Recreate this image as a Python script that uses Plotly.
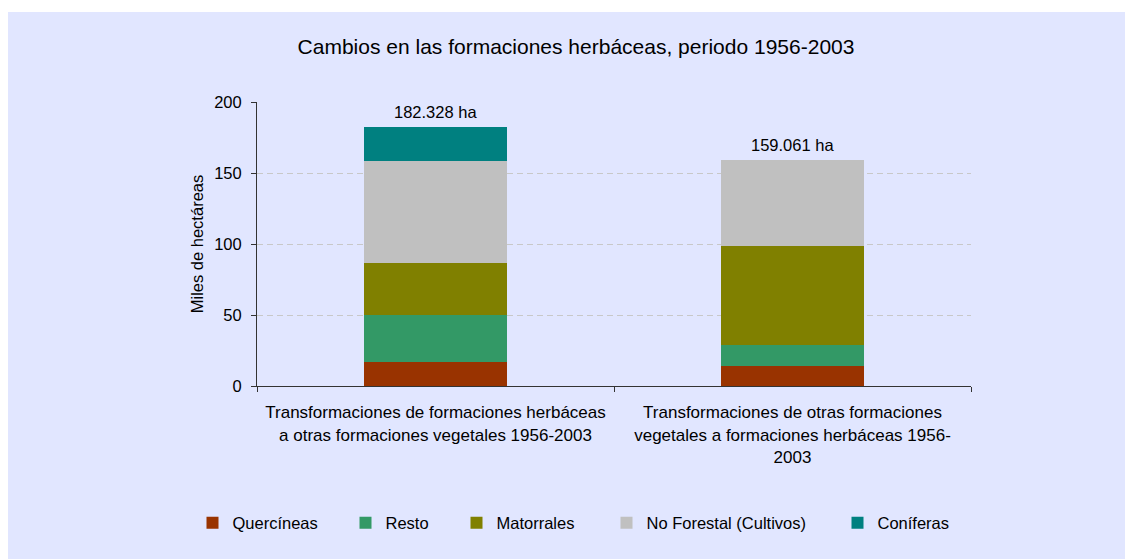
import plotly.graph_objects as go

categories = [
    "Transformaciones de formaciones herbáceas<br>a otras formaciones vegetales 1956-2003",
    "Transformaciones de otras formaciones<br>vegetales a formaciones herbáceas 1956-<br>2003",
]
series_names = ["Quercíneas", "Resto", "Matorrales", "No Forestal (Cultivos)", "Coníferas"]
quercineas = [16.9, 14.1]
resto = [32.9, 14.6]
matorrales = [36.8, 69.9]
no_forestal = [71.9, 60.5]
coniferas = [23.8, 0.0]
totals = [182.328, 159.061]
y_ticks = [0, 50, 100, 150, 200]

colors = ["#993300", "#339966", "#808000", "#C0C0C0", "#008080"]
values = [quercineas, resto, matorrales, no_forestal, coniferas]

FONT = "Liberation Sans, Arial, sans-serif"
OFF = 8  # page body margin
W, H = 1133 - OFF, 559 - OFF
# plot area in page px
PL, PR, PT, PB = 257, 971, 102, 386
L, R, T, B = PL - OFF, PR - OFF, PT - OFF, PB - OFF


def px_x(page_px):
    return (page_px - OFF - L) / (R - L)


def px_y(page_py):
    return (B - (page_py - OFF)) / (B - T)


fig = go.Figure()
legend_px = [192.5, 345.5, 456.5, 606.5, 837.5]
legend_ids = ["legend", "legend2", "legend3", "legend4", "legend5"]
for name, vals, col, lid in zip(series_names, values, colors, legend_ids):
    fig.add_trace(go.Bar(
        x=categories, y=vals, name=name,
        marker=dict(color=col, line=dict(width=0)),
        legend=lid,
    ))

for cat, tot in zip(categories, totals):
    txt = f"{tot:.3f} ha"
    fig.add_annotation(x=cat, y=tot, text=txt, showarrow=False,
                       yanchor="bottom", yshift=4,
                       font=dict(family=FONT, size=16.5, color="#000000"))

layout_legends = {}
for lid, lpx in zip(legend_ids, legend_px):
    layout_legends[lid] = dict(
        x=px_x(lpx), xanchor="left", y=px_y(523), yanchor="middle",
        orientation="h", bgcolor="rgba(0,0,0,0)", borderwidth=0,
        font=dict(family=FONT, size=16.5, color="#000000"),
    )

fig.update_layout(
    width=W, height=H,
    margin=dict(l=L, r=W - R, t=T, b=H - B, autoexpand=False),
    paper_bgcolor="#FFFFFF",
    plot_bgcolor="rgba(0,0,0,0)",
    barmode="stack",
    bargap=0.6,
    font=dict(family=FONT, size=16.5, color="#000000"),
    title=dict(text="Cambios en las formaciones herbáceas, periodo 1956-2003",
               x=(576 - OFF) / W, xref="container", xanchor="center",
               y=1 - (47 - OFF) / H, yref="container", yanchor="middle",
               font=dict(family=FONT, size=21, color="#000000")),
    showlegend=True,
    **layout_legends,
)

fig.add_shape(type="rect", xref="paper", yref="paper",
              x0=px_x(5), x1=px_x(1140), y0=px_y(570), y1=px_y(12),
              fillcolor="#E1E6FF", line=dict(width=0), layer="below")

fig.update_xaxes(
    showline=True, linecolor="#333333", linewidth=1,
    ticks="outside", ticklen=5, tickcolor="#333333", tickson="boundaries",
    showgrid=False, tickfont=dict(family=FONT, size=17, color="#000000"),
    ticklabelstandoff=11,
)
fig.update_yaxes(
    range=[0, 200], tickvals=y_ticks, showline=True, linecolor="#333333", linewidth=1,
    ticks="outside", ticklen=5, tickcolor="#333333",
    showgrid=True, gridcolor="#C8C8C8", gridwidth=1, griddash="6px,4px",
    zeroline=False,
    tickfont=dict(family=FONT, size=16.5, color="#000000"),
    title=dict(text="Miles de hectáreas", standoff=6,
               font=dict(family=FONT, size=16.5, color="#000000")),
    ticklabelstandoff=6,
)

fig.write_html("out.html")
